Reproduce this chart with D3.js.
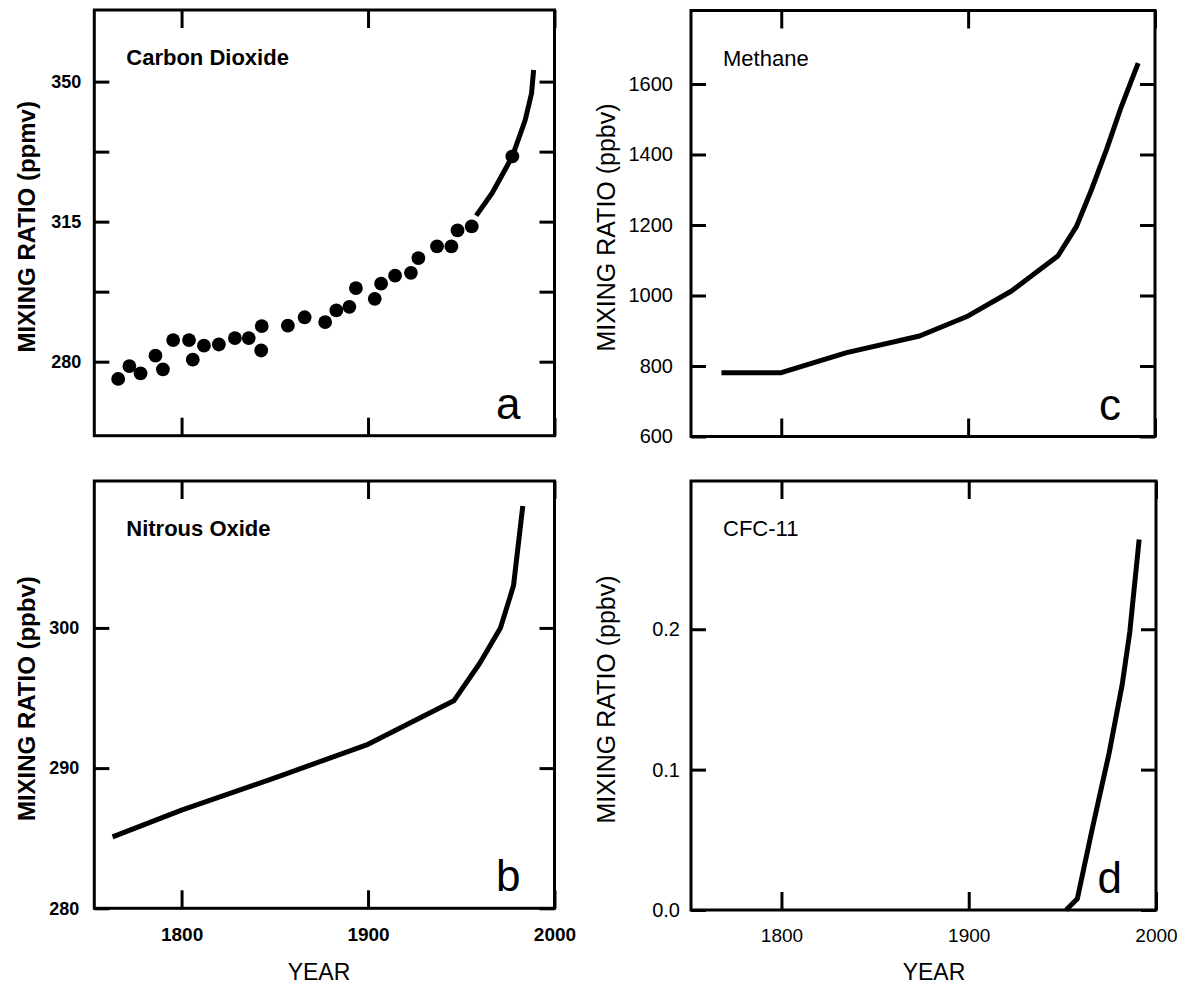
<!DOCTYPE html>
<html>
<head>
<meta charset="utf-8">
<script src="https://cdn.jsdelivr.net/npm/d3@7"></script>
<style>
body { margin: 0; background: #fff; }
svg { display: block; }
</style>
</head>
<body>
<svg id="chart" width="1178" height="988"></svg>
<script>
// a - carbon dioxide, ice core dots + direct record line (ppmv)
var co2DotYears = [1766, 1772, 1778, 1786, 1790, 1795.5, 1804, 1806, 1812, 1820, 1828.6, 1836, 1843, 1842.7, 1857, 1866, 1877, 1883, 1890, 1893.5, 1903.6, 1907, 1914.5, 1923, 1927, 1937, 1944.7, 1948, 1955.6, 1977.4];
var co2DotValues = [275.7, 278.9, 277.1, 281.5, 278.1, 285.4, 285.4, 280.5, 284.0, 284.3, 285.9, 285.9, 288.9, 282.8, 289.0, 291.1, 289.9, 292.8, 293.7, 298.4, 295.7, 299.5, 301.5, 302.2, 305.9, 308.8, 308.8, 312.8, 313.8, 331.3];
var co2LineYears = [1958, 1966.5, 1977.4, 1984.3, 1987.7, 1988.8];
var co2LineValues = [316.5, 322.1, 331.3, 340.4, 347.1, 352.9];

// c - methane (ppbv)
var ch4Years = [1768, 1800, 1835, 1874, 1900, 1923, 1948, 1958, 1966, 1974, 1982, 1991];
var ch4Values = [781, 781, 838, 885, 942, 1012, 1112, 1196, 1300, 1413, 1536, 1659];

// b - nitrous oxide (ppbv)
var n2oYears = [1763, 1800, 1850, 1900, 1946, 1960, 1971, 1978, 1983];
var n2oValues = [285.1, 287.0, 289.3, 291.7, 294.8, 297.5, 300.0, 303.0, 308.7];

// d - CFC-11 (ppbv)
var cfcYears = [1952, 1958, 1966, 1975, 1982, 1986, 1991];
var cfcValues = [0, 0.008, 0.058, 0.112, 0.161, 0.198, 0.264];

// ticks
var yearTicks = [1800, 1900, 2000];
var co2Ticks = [280, 297.5, 315, 332.5, 350];
var co2Labels = [280, 315, 350];
var ch4Ticks = [600, 800, 1000, 1200, 1400, 1600];
var n2oTicks = [280, 290, 300];
var cfcTicks = [0, 0.1, 0.2];

var FONT = "'Liberation Sans', Arial, Helvetica, sans-serif";
var svg = d3.select("#chart");

function drawPanel(p) {
  var x = d3.scaleLinear().domain(p.xDomain).range([p.left, p.right]);
  var y = d3.scaleLinear().domain(p.yDomain).range([p.bottom, p.top]);
  var g = svg.append("g");
  var fw = p.bold ? "bold" : "normal";

  function styleAxis(sel, size) {
    sel.attr("font-family", FONT).attr("font-size", size).attr("font-weight", fw);
    sel.select(".domain").remove();
    sel.selectAll(".tick line").attr("stroke", "#000").attr("stroke-width", 3);
    sel.selectAll(".tick text").attr("fill", "#000");
  }

  // y axes, ticks pointing inward
  g.append("g").attr("transform", "translate(" + p.left + ",0)")
    .call(d3.axisLeft(y).tickValues(p.yTicks).tickSizeInner(-15).tickSizeOuter(0)
      .tickPadding(p.yPad).tickFormat(function(d) { return p.yLabels.indexOf(d) >= 0 ? p.yFmt(d) : ""; }))
    .call(styleAxis, p.yFont);
  g.append("g").attr("transform", "translate(" + p.right + ",0)")
    .call(d3.axisRight(y).tickValues(p.yTicks).tickSizeInner(-15).tickSizeOuter(0).tickFormat(""))
    .call(styleAxis, p.yFont);

  // x axes
  g.append("g").attr("transform", "translate(0," + p.top + ")")
    .call(d3.axisTop(x).tickValues(yearTicks).tickSizeInner(-18).tickSizeOuter(0).tickFormat(""))
    .call(styleAxis, 19);
  g.append("g").attr("transform", "translate(0," + p.bottom + ")")
    .call(d3.axisBottom(x).tickValues(yearTicks).tickSizeInner(-18).tickSizeOuter(0)
      .tickPadding(19).tickFormat(p.xLabels ? d3.format("d") : ""))
    .call(styleAxis, 19);

  // frame
  g.append("rect")
    .attr("x", p.left).attr("y", p.top)
    .attr("width", p.right - p.left).attr("height", p.bottom - p.top)
    .attr("fill", "none").attr("stroke", "#000").attr("stroke-width", 3);

  // series
  var line = d3.line()
    .x(function(d) { return x(d[0]); })
    .y(function(d) { return y(d[1]); });
  g.append("path")
    .datum(d3.zip(p.lineYears, p.lineValues))
    .attr("d", line)
    .attr("fill", "none").attr("stroke", "#000")
    .attr("stroke-width", 5).attr("stroke-linejoin", "round");

  if (p.dotYears) {
    g.selectAll("circle")
      .data(d3.zip(p.dotYears, p.dotValues))
      .enter().append("circle")
      .attr("cx", function(d) { return x(d[0]); })
      .attr("cy", function(d) { return y(d[1]); })
      .attr("r", 6.9)
      .attr("fill", "#000");
  }

  // texts
  g.append("text")
    .attr("x", p.left + 32).attr("y", p.top + 55)
    .attr("font-family", FONT).attr("font-size", 22).attr("font-weight", fw)
    .text(p.title);
  g.append("text")
    .attr("x", p.right - 34).attr("y", p.bottom - 17)
    .attr("text-anchor", "end")
    .attr("font-family", FONT).attr("font-size", 44)
    .text(p.letter);
  g.append("text")
    .attr("transform", "translate(" + p.yTitleX + "," + ((p.top + p.bottom) / 2 + 4) + ") rotate(-90)")
    .attr("text-anchor", "middle")
    .attr("font-family", FONT).attr("font-size", p.bold ? 24 : 25).attr("font-weight", fw)
    .text(p.yTitle);
  if (p.xLabels) {
    g.append("text")
      .attr("x", p.yearX).attr("y", 980)
      .attr("text-anchor", "middle")
      .attr("font-family", FONT).attr("font-size", 23)
      .text("YEAR");
  }
}

drawPanel({
  left: 94.3, right: 554.5, top: 10, bottom: 435.7,
  xDomain: [1753.2, 2000], yDomain: [261.5, 367.9],
  yTicks: co2Ticks, yLabels: co2Labels, yFmt: d3.format("d"), yPad: 13, yFont: 18,
  lineYears: co2LineYears, lineValues: co2LineValues,
  dotYears: co2DotYears, dotValues: co2DotValues,
  title: "Carbon Dioxide", letter: "a", yTitle: "MIXING RATIO (ppmv)", yTitleX: 35,
  bold: true, xLabels: false
});
drawPanel({
  left: 691, right: 1155, top: 10.5, bottom: 436.5,
  xDomain: [1751.7, 2000], yDomain: [600, 1808.5],
  yTicks: ch4Ticks, yLabels: ch4Ticks, yFmt: d3.format("d"), yPad: 18, yFont: 20,
  lineYears: ch4Years, lineValues: ch4Values,
  title: "Methane", letter: "c", yTitle: "MIXING RATIO (ppbv)", yTitleX: 615,
  bold: false, xLabels: false
});
drawPanel({
  left: 94.3, right: 554.5, top: 481, bottom: 908.3,
  xDomain: [1753.2, 2000], yDomain: [280, 310.48],
  yTicks: n2oTicks, yLabels: n2oTicks, yFmt: d3.format("d"), yPad: 15, yFont: 18,
  lineYears: n2oYears, lineValues: n2oValues,
  title: "Nitrous Oxide", letter: "b", yTitle: "MIXING RATIO (ppbv)", yTitleX: 35,
  bold: true, xLabels: true, yearX: 319
});
drawPanel({
  left: 691, right: 1156, top: 481, bottom: 910,
  xDomain: [1751.7, 2000], yDomain: [0, 0.3056],
  yTicks: cfcTicks, yLabels: cfcTicks, yFmt: d3.format(".1f"), yPad: 11, yFont: 20,
  lineYears: cfcYears, lineValues: cfcValues,
  title: "CFC-11", letter: "d", yTitle: "MIXING RATIO (ppbv)", yTitleX: 615,
  bold: false, xLabels: true, yearX: 934
});
</script>
</body>
</html>
